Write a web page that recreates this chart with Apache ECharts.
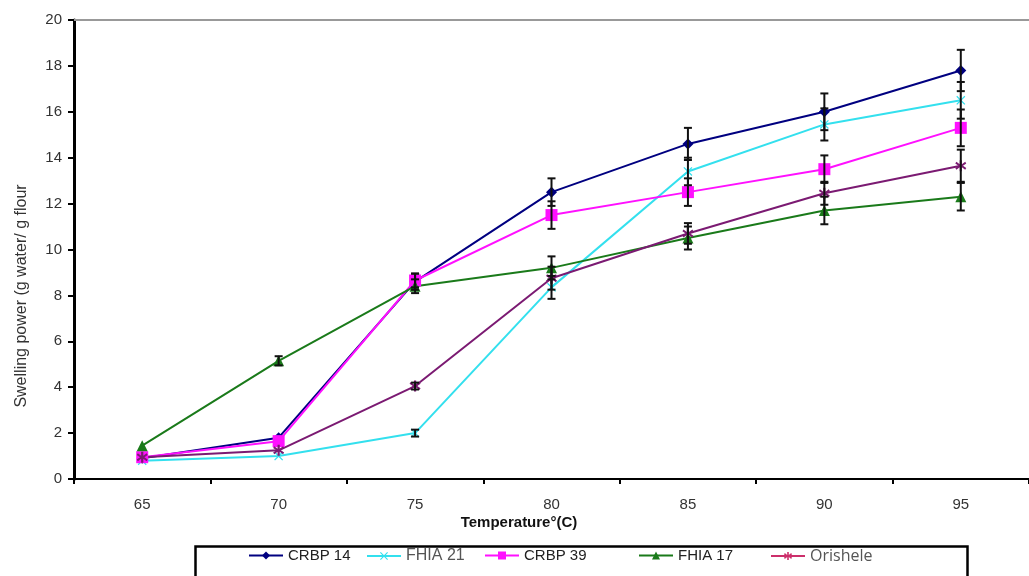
<!DOCTYPE html>
<html>
<head>
<meta charset="utf-8">
<script src="https://cdn.jsdelivr.net/npm/echarts@6/dist/echarts.min.js"></script>
<style>
  html, body { margin: 0; padding: 0; background: #fff; }
  #chart { width: 1029px; height: 576px; }
</style>
</head>
<body>
<div id="chart"></div>
<script>
  // temperatures (°C)
  var categories = ['65', '70', '75', '80', '85', '90', '95'];

  var crbp14 = [0.9, 1.8, 8.6, 12.5, 14.6, 16.0, 17.8];
  var crbp14Err = [0, 0, 0.35, 0.6, 0.7, 0.8, 0.9];

  var fhia21 = [0.8, 1.0, 2.0, 8.35, 13.4, 15.45, 16.5];
  var fhia21Err = [0, 0, 0.15, 0.5, 0.6, 0.7, 0.8];

  var crbp39 = [0.95, 1.65, 8.65, 11.5, 12.5, 13.5, 15.3];
  var crbp39Err = [0, 0, 0.3, 0.6, 0.6, 0.6, 0.8];

  var fhia17 = [1.45, 5.15, 8.4, 9.2, 10.5, 11.7, 12.3];
  var fhia17Err = [0, 0.2, 0.3, 0.5, 0.5, 0.6, 0.6];

  var orishele = [0.95, 1.25, 4.05, 8.75, 10.7, 12.45, 13.65];
  var orisheleErr = [0, 0, 0.15, 0.5, 0.45, 0.5, 0.7];

  var crossPath = 'path://M0,1L1,0L5,4L9,0L10,1L6,5L10,9L9,10L5,6L1,10L0,9L4,5Z';
  var starPath = 'path://M4,0L6,0L6,3.6L9,1.4L10,3L7,5L10,7L9,8.6L6,6.4L6,10L4,10L4,6.4L1,8.6L0,7L3,5L0,3L1,1.4L4,3.6Z';

  function errData(vals, errs) {
    var out = [];
    for (var i = 0; i < vals.length; i++) {
      if (errs[i] > 0) out.push([i, vals[i], errs[i]]);
    }
    return out;
  }

  function renderErr(params, api) {
    var x = api.value(0), v = api.value(1), e = api.value(2);
    var hi = api.coord([x, v + e]);
    var lo = api.coord([x, v - e]);
    var w = 4;
    var st = { stroke: '#111', lineWidth: 2 };
    return {
      type: 'group',
      children: [
        { type: 'line', shape: { x1: hi[0], y1: hi[1], x2: lo[0], y2: lo[1] }, style: st },
        { type: 'line', shape: { x1: hi[0] - w, y1: hi[1], x2: hi[0] + w, y2: hi[1] }, style: st },
        { type: 'line', shape: { x1: lo[0] - w, y1: lo[1], x2: lo[0] + w, y2: lo[1] }, style: st }
      ]
    };
  }

  function lineSeries(name, data, color, symbol, size) {
    return {
      name: name,
      type: 'line',
      data: data,
      symbol: symbol,
      symbolSize: size,
      showSymbol: true,
      lineStyle: { color: color, width: 2 },
      itemStyle: { color: color },
      z: 3
    };
  }

  function errSeries(vals, errs) {
    return {
      type: 'custom',
      renderItem: renderErr,
      data: errData(vals, errs),
      z: 4,
      silent: true
    };
  }

  var legendText = { fontFamily: 'Liberation Sans', fontSize: 15, color: '#222' };

  function oneLegend(name, left, extra) {
    var item = Object.assign({ name: name }, extra || {});
    return {
      data: [item],
      left: left,
      top: 548,
      itemWidth: 34,
      itemHeight: 10,
      itemGap: 4,
      textStyle: legendText,
      padding: 0
    };
  }

  var chart = echarts.init(document.getElementById('chart'));
  chart.setOption({
    animation: false,
    backgroundColor: '#fff',
    grid: { left: 74, top: 20, width: 966, height: 459 },
    legend: [
      oneLegend('CRBP 14', 248),
      oneLegend('FHIA 21', 366, { textStyle: { color: '#555', fontSize: 16 } }),
      oneLegend('CRBP 39', 484),
      oneLegend('FHIA 17', 638),
      oneLegend('Orishele', 770, {
        textStyle: { color: '#555', fontSize: 16, fontFamily: 'Open Sans' },
        itemStyle: { color: '#cc2f6b' },
        lineStyle: { color: '#cc2f6b' }
      })
    ],
    xAxis: [{
      type: 'category',
      data: categories,
      boundaryGap: true,
      axisLine: { lineStyle: { color: '#000', width: 2 } },
      axisTick: { show: true, alignWithLabel: false, length: 5, lineStyle: { color: '#000', width: 2 } },
      axisLabel: { color: '#333', fontSize: 15, fontFamily: 'Liberation Sans', margin: 18 },
      splitLine: { show: false }
    }, {
      type: 'category',
      position: 'top',
      data: categories,
      axisLine: { lineStyle: { color: '#999', width: 2 } },
      axisTick: { show: false },
      axisLabel: { show: false }
    }],
    yAxis: {
      type: 'value',
      min: 0,
      max: 20,
      interval: 2,
      axisLine: { show: true, lineStyle: { color: '#000', width: 3 } },
      axisTick: { show: true, length: 6, lineStyle: { color: '#000', width: 2 } },
      axisLabel: { color: '#333', fontSize: 15, fontFamily: 'Liberation Sans', margin: 12 },
      splitLine: { show: false }
    },
    graphic: [
      {
        type: 'rect',
        left: 193,
        top: 544,
        shape: { width: 772, height: 60 },
        style: { fill: 'none', stroke: '#000', lineWidth: 2.5 },
        silent: true
      },
      {
        type: 'text',
        x: 22,
        y: 296,
        rotation: Math.PI / 2,
        style: {
          text: 'Swelling power (g water/ g flour',
          font: '16px "Liberation Sans"',
          fill: '#333',
          textAlign: 'center',
          textVerticalAlign: 'middle'
        }
      },
      {
        type: 'text',
        x: 519,
        y: 523,
        style: {
          text: 'Temperature°(C)',
          font: 'bold 15px "Liberation Sans"',
          fill: '#111',
          textAlign: 'center',
          textVerticalAlign: 'middle'
        }
      }
    ],
    series: [
      lineSeries('CRBP 14', crbp14, '#000080', 'diamond', 11),
      lineSeries('FHIA 21', fhia21, '#33e0ee', crossPath, 9),
      lineSeries('CRBP 39', crbp39, '#ff10ff', 'rect', 12),
      lineSeries('FHIA 17', fhia17, '#1a7a1a', 'triangle', 11),
      lineSeries('Orishele', orishele, '#7b1a72', starPath, 11),
      errSeries(crbp14, crbp14Err),
      errSeries(fhia21, fhia21Err),
      errSeries(crbp39, crbp39Err),
      errSeries(fhia17, fhia17Err),
      errSeries(orishele, orisheleErr)
    ]
  });
</script>
</body>
</html>
